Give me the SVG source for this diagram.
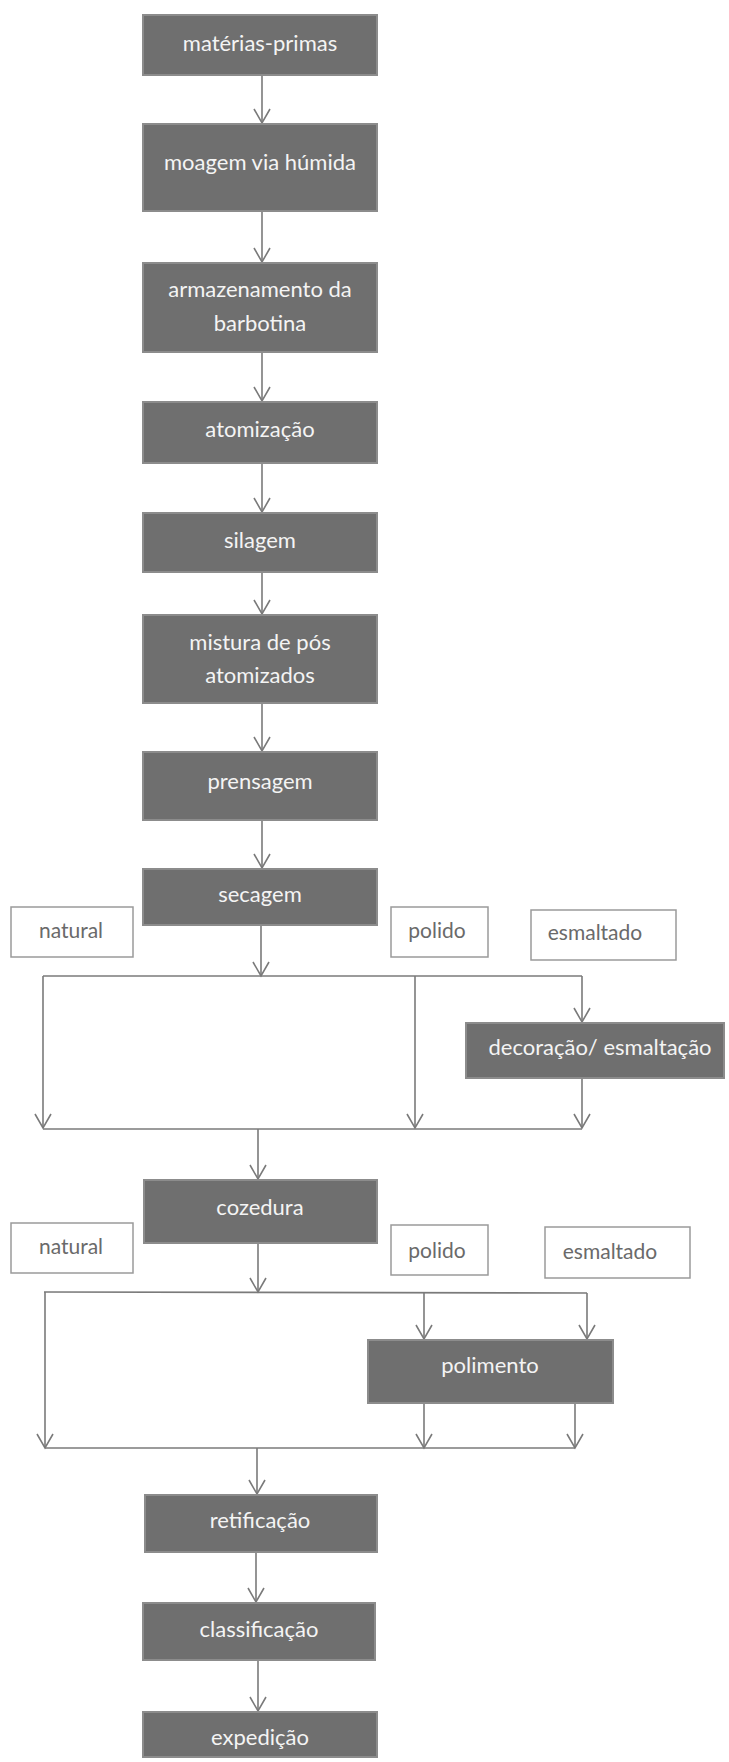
<svg xmlns="http://www.w3.org/2000/svg" width="729" height="1762" viewBox="0 0 729 1762">
<style>
.box{fill:#6f6f6f;stroke:#8c8c8c;stroke-width:2}
.lbl{fill:#ffffff;stroke:#9a9a9a;stroke-width:1.5}
.t{font-family:Lato,"Liberation Sans",sans-serif;font-size:22px;fill:#f4f4f4;text-anchor:middle}
.lt{font-family:Lato,"Liberation Sans",sans-serif;font-size:21px;fill:#6a6a6a;text-anchor:middle}
.c{fill:none;stroke:#7a7a7a;stroke-width:1.6}
.a{marker-end:url(#ah)}
</style>
<defs>
<marker id="ah" markerUnits="userSpaceOnUse" orient="auto" refX="0" refY="0" markerWidth="20" markerHeight="20" overflow="visible">
<path d="M-14,-8 L0,0 L-14,8" fill="none" stroke="#7a7a7a" stroke-width="1.6"/>
</marker>
</defs>
<rect width="729" height="1762" fill="#ffffff"/>
<g id="connectors">
<line class="c a" x1="262" y1="75" x2="262" y2="123"/>
<line class="c a" x1="262" y1="211" x2="262" y2="262"/>
<line class="c a" x1="262" y1="352" x2="262" y2="401"/>
<line class="c a" x1="262" y1="463" x2="262" y2="512"/>
<line class="c a" x1="262" y1="572" x2="262" y2="614"/>
<line class="c a" x1="262" y1="703" x2="262" y2="751"/>
<line class="c a" x1="262" y1="820" x2="262" y2="868"/>
<line class="c a" x1="261" y1="925" x2="261" y2="976"/>
<line class="c" x1="43" y1="976" x2="582" y2="976"/>
<line class="c a" x1="43" y1="976" x2="43" y2="1128"/>
<line class="c a" x1="415" y1="976" x2="415" y2="1128"/>
<line class="c a" x1="582" y1="976" x2="582" y2="1022"/>
<line class="c a" x1="582" y1="1078" x2="582" y2="1128"/>
<line class="c" x1="43" y1="1129" x2="582" y2="1129"/>
<line class="c a" x1="258" y1="1129" x2="258" y2="1179"/>
<line class="c a" x1="258" y1="1243" x2="258" y2="1292"/>
<line class="c" x1="44" y1="1292" x2="587" y2="1293"/>
<line class="c a" x1="45" y1="1292" x2="45" y2="1448"/>
<line class="c a" x1="424" y1="1293" x2="424" y2="1339"/>
<line class="c a" x1="587" y1="1293" x2="587" y2="1339"/>
<line class="c a" x1="424" y1="1403" x2="424" y2="1448"/>
<line class="c a" x1="575" y1="1403" x2="575" y2="1448"/>
<line class="c" x1="45" y1="1448" x2="575" y2="1448"/>
<line class="c a" x1="257" y1="1448" x2="257" y2="1494"/>
<line class="c a" x1="256" y1="1552" x2="256" y2="1602"/>
<line class="c a" x1="258" y1="1660" x2="258" y2="1711"/>
</g>
<g id="n1"><rect class="box" x="143" y="15" width="234" height="60"/><text class="t" x="260" y="51">matérias-primas</text></g>
<g id="n2"><rect class="box" x="143" y="124" width="234" height="87"/><text class="t" x="260" y="170">moagem via húmida</text></g>
<g id="n3"><rect class="box" x="143" y="263" width="234" height="89"/><text class="t" x="260" y="297">armazenamento da</text><text class="t" x="260" y="331">barbotina</text></g>
<g id="n4"><rect class="box" x="143" y="402" width="234" height="61"/><text class="t" x="260" y="437">atomização</text></g>
<g id="n5"><rect class="box" x="143" y="513" width="234" height="59"/><text class="t" x="260" y="548">silagem</text></g>
<g id="n6"><rect class="box" x="143" y="615" width="234" height="88"/><text class="t" x="260" y="650">mistura de pós</text><text class="t" x="260" y="683">atomizados</text></g>
<g id="n7"><rect class="box" x="143" y="752" width="234" height="68"/><text class="t" x="260" y="789">prensagem</text></g>
<g id="n8"><rect class="box" x="143" y="869" width="234" height="56"/><text class="t" x="260" y="902">secagem</text></g>
<g id="l1"><rect class="lbl" x="11" y="907" width="122" height="50"/><text class="lt" x="71" y="938">natural</text></g>
<g id="l2"><rect class="lbl" x="391" y="907" width="97" height="50"/><text class="lt" x="437" y="938">polido</text></g>
<g id="l3"><rect class="lbl" x="531" y="910" width="145" height="50"/><text class="lt" x="595" y="940">esmaltado</text></g>
<g id="n9"><rect class="box" x="466" y="1023" width="258" height="55"/><text class="t" x="600" y="1055">decoração/ esmaltação</text></g>
<g id="n10"><rect class="box" x="144" y="1180" width="233" height="63"/><text class="t" x="260" y="1215">cozedura</text></g>
<g id="l4"><rect class="lbl" x="11" y="1223" width="122" height="50"/><text class="lt" x="71" y="1254">natural</text></g>
<g id="l5"><rect class="lbl" x="391" y="1225" width="97" height="50"/><text class="lt" x="437" y="1258">polido</text></g>
<g id="l6"><rect class="lbl" x="545" y="1227" width="145" height="51"/><text class="lt" x="610" y="1259">esmaltado</text></g>
<g id="n11"><rect class="box" x="368" y="1340" width="245" height="63"/><text class="t" x="490" y="1373">polimento</text></g>
<g id="n12"><rect class="box" x="145" y="1495" width="232" height="57"/><text class="t" x="260" y="1528">retificação</text></g>
<g id="n13"><rect class="box" x="143" y="1603" width="232" height="57"/><text class="t" x="259" y="1637">classificação</text></g>
<g id="n14"><rect class="box" x="143" y="1712" width="234" height="45"/><text class="t" x="260" y="1745">expedição</text></g>
</svg>
